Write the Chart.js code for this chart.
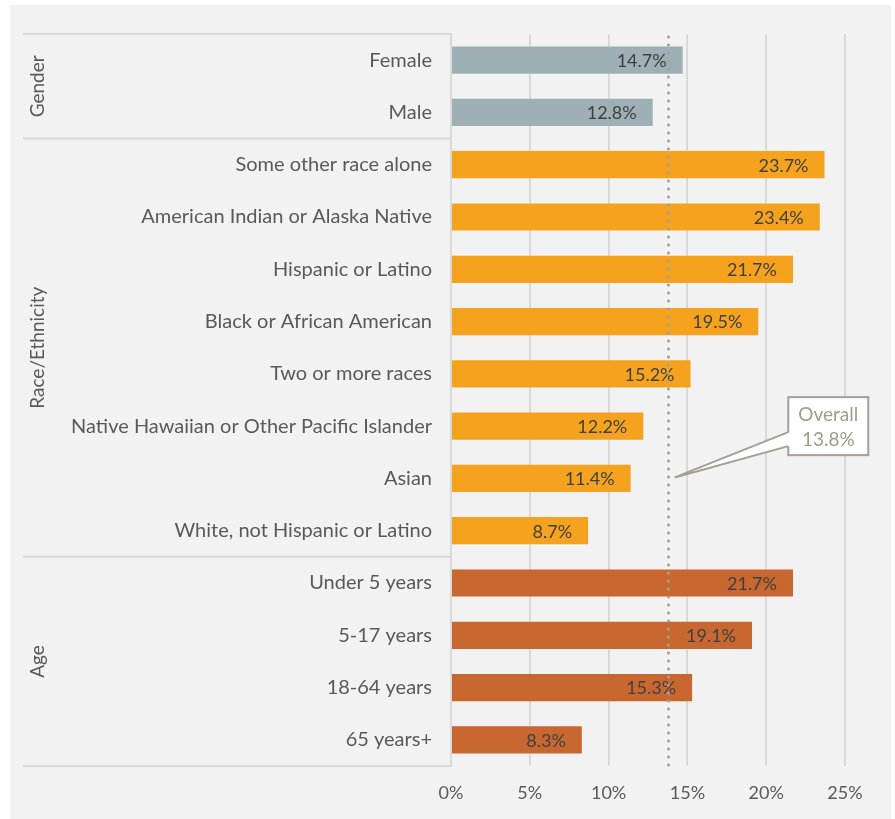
<!DOCTYPE html>
<html>
<head>
<meta charset="utf-8">
<script src="https://cdn.jsdelivr.net/npm/chart.js@4"></script>
<style>
  html, body { margin: 0; padding: 0; background: #ffffff; }
  #wrap { width: 895px; height: 819px; }
</style>
</head>
<body>
<div id="wrap"><canvas id="chart" width="895" height="819"></canvas></div>
<script>
// Poverty rate by population group
const categories = [
  'Female', 'Male',
  'Some other race alone', 'American Indian or Alaska Native', 'Hispanic or Latino',
  'Black or African American', 'Two or more races', 'Native Hawaiian or Other Pacific Islander',
  'Asian', 'White, not Hispanic or Latino',
  'Under 5 years', '5-17 years', '18-64 years', '65 years+'
];
const rates = [14.7, 12.8, 23.7, 23.4, 21.7, 19.5, 15.2, 12.2, 11.4, 8.7, 21.7, 19.1, 15.3, 8.3];
const groupNames = ['Gender', 'Race/Ethnicity', 'Age'];
const groupSizes = [2, 8, 4];
const groupColors = ['#9eafb5', '#f5a31e', '#c8672f'];
const xTicks = [0, 5, 10, 15, 20, 25];
const overallRate = 13.8;
const overallLabel = ['Overall', '13.8%'];

const FONT = 'Lato, "Open Sans", sans-serif';
const GRID = '#d9d9d9';

// colour of each bar from its group
const barColors = [];
groupSizes.forEach((n, g) => { for (let i = 0; i < n; i++) barColors.push(groupColors[g]); });

const backgroundPlugin = {
  id: 'panel',
  beforeDraw(chart) {
    const c = chart.ctx;
    c.save();
    c.fillStyle = '#ffffff';
    c.fillRect(0, 0, chart.width, chart.height);
    c.fillStyle = '#f2f2f2';
    c.fillRect(10, 5, chart.width - 14, chart.height - 5);
    c.restore();
  }
};

// group separators and rotated group names on the left
const groupPlugin = {
  id: 'groups',
  afterDraw(chart) {
    const c = chart.ctx, y = chart.scales.y, area = chart.chartArea;
    const half = (y.getPixelForValue(1) - y.getPixelForValue(0)) / 2;
    c.save();
    c.strokeStyle = GRID;
    c.lineWidth = 2;
    let start = 0;
    const edges = [y.getPixelForValue(0) - half];
    groupSizes.forEach(n => { start += n; edges.push(y.getPixelForValue(start - 1) + half); });
    edges.forEach(e => {
      c.beginPath(); c.moveTo(23, e); c.lineTo(area.left, e); c.stroke();
    });
    c.fillStyle = '#595959';
    c.font = '19px ' + FONT;
    c.textAlign = 'center';
    c.textBaseline = 'middle';
    groupNames.forEach((name, g) => {
      const cy = (edges[g] + edges[g + 1]) / 2;
      c.save();
      c.translate(38, cy);
      c.rotate(-Math.PI / 2);
      c.fillText(name, 0, 0);
      c.restore();
    });
    c.restore();
  }
};

// value labels inside the bar ends, then the dotted overall line
const valuePlugin = {
  id: 'values',
  afterDatasetsDraw(chart) {
    const c = chart.ctx, meta = chart.getDatasetMeta(0);
    c.save();
    c.fillStyle = '#404040';
    c.font = '18px ' + FONT;
    c.textAlign = 'right';
    c.textBaseline = 'middle';
    meta.data.forEach((bar, i) => {
      c.fillText(rates[i].toFixed(1) + '%', bar.x - 16, bar.y + 1);
    });
    const x = chart.scales.x.getPixelForValue(overallRate);
    const area = chart.chartArea;
    c.strokeStyle = '#a59f94';
    c.lineWidth = 3;
    c.lineCap = 'round';
    c.setLineDash([0, 8]);
    c.beginPath(); c.moveTo(x, area.top + 3); c.lineTo(x, area.bottom); c.stroke();
    c.restore();
  }
};

// callout box pointing at the overall line
const calloutPlugin = {
  id: 'callout',
  afterDraw(chart) {
    const c = chart.ctx, xs = chart.scales.x, ys = chart.scales.y;
    const left = xs.getPixelForValue(21.4), w = 80, h = 58;
    const cy = ys.getPixelForValue(7), top = cy - h / 2;
    const tipX = xs.getPixelForValue(14.2), tipY = ys.getPixelForValue(8) - 1;
    const b1 = cy + 6, b2 = cy + 20;
    c.save();
    c.strokeStyle = '#a59f94';
    c.lineWidth = 2;
    c.fillStyle = '#ffffff';
    c.fillRect(left, top, w, h);
    c.strokeRect(left, top, w, h);
    c.beginPath();
    c.moveTo(left + 1, b1); c.lineTo(tipX, tipY); c.lineTo(left + 1, b2); c.closePath();
    c.fill();
    c.beginPath();
    c.moveTo(left, b1); c.lineTo(tipX, tipY); c.lineTo(left, b2);
    c.stroke();
    c.fillStyle = '#ffffff';
    c.fillRect(left - 1, b1 + 1, 3, b2 - b1 - 2);
    c.fillStyle = '#9c9f86';
    c.font = '19px ' + FONT;
    c.textAlign = 'center';
    c.textBaseline = 'middle';
    c.fillText(overallLabel[0], left + w / 2, cy - 11);
    c.fillText(overallLabel[1], left + w / 2, cy + 14);
    c.restore();
  }
};

new Chart(document.getElementById('chart'), {
  type: 'bar',
  data: {
    labels: categories,
    datasets: [{
      data: rates,
      backgroundColor: barColors,
      borderWidth: 0,
      barPercentage: 0.52,
      categoryPercentage: 1
    }]
  },
  options: {
    indexAxis: 'y',
    responsive: false,
    animation: false,
    devicePixelRatio: 1,
    layout: { padding: { top: 34, right: 50, left: 0, bottom: 0 } },
    plugins: { legend: { display: false }, tooltip: { enabled: false } },
    scales: {
      x: {
        min: 0, max: 25,
        afterBuildTicks(scale) { scale.ticks = xTicks.map(v => ({ value: v })); },
        afterFit(scale) { scale.height = 53; },
        grid: { color: GRID, lineWidth: 2, drawTicks: false },
        border: { display: false },
        ticks: {
          padding: 16,
          color: '#595959',
          font: { family: FONT, size: 18 },
          callback: v => v + '%'
        }
      },
      y: {
        afterFit(scale) { scale.width = 451; },
        grid: { display: false },
        border: { display: true, color: GRID, width: 2 },
        ticks: {
          padding: 11,
          color: '#595959',
          font: { family: FONT, size: 20 },
          autoSkip: false
        }
      }
    }
  },
  plugins: [backgroundPlugin, groupPlugin, valuePlugin, calloutPlugin]
});
</script>
</body>
</html>
